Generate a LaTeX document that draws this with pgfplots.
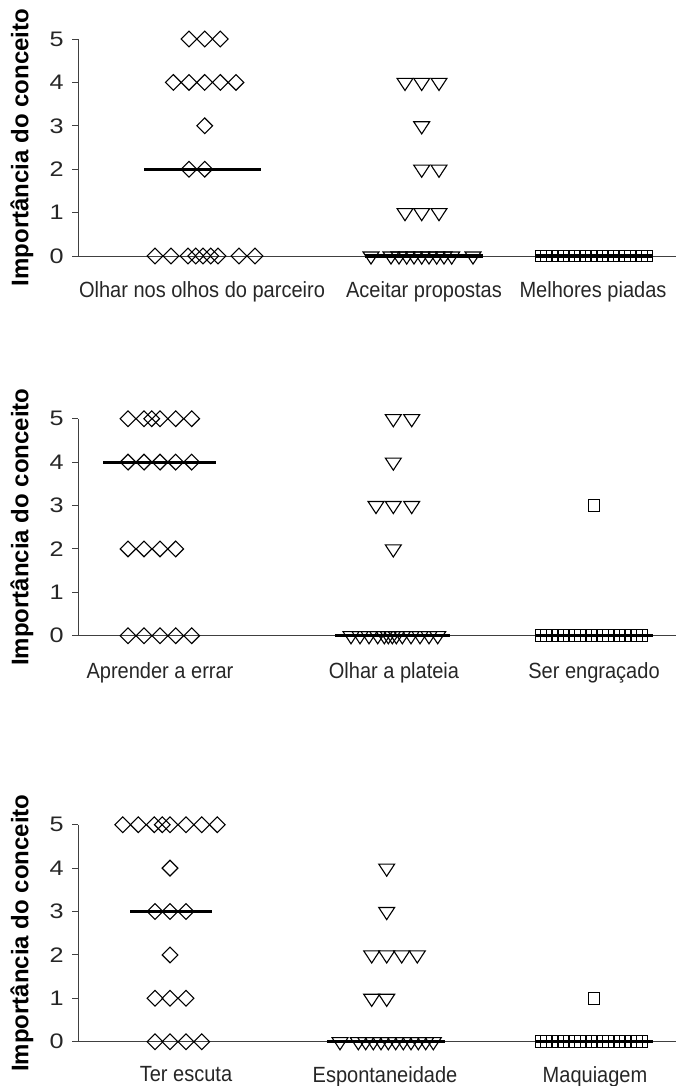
\documentclass[border=0pt]{standalone}
\usepackage{fontspec}
\setmainfont{Liberation Sans}
\usepackage{pgfplots}
\pgfplotsset{compat=1.18}
\pgfplotsset{
  panel/.style={
    scale only axis, width=299pt, height=108.5pt,
    xmin=78, xmax=676, ymin=0, ymax=5,
    axis x line=bottom, axis y line=left,
    axis line style={-, black!75, line width=0.5pt},
    ytick={0,...,5},
    tick align=outside, major tick length=3pt,
    ytick style={black!75, line width=0.5pt},
    xtick style={draw=none},
    yticklabel style={font=\fontsize{10.5}{12}\selectfont, text=black!85, xscale=1.2},
    /pgf/number format/assume math mode=true,
    xticklabel style={font=\fontsize{11}{13}\selectfont, text=black!85, xscale=0.91, yshift=-6pt},
    clip=false,
    ylabel={Importância do conceito},
    ylabel style={font=\bfseries\fontsize{12}{14}\selectfont, at={(axis description cs:-0.0936,0.5)}, anchor=center},
  },
  dia/.style={only marks, mark=square, mark size=2.78pt, mark options={rotate=45, line width=0.55pt, draw=black, fill=none}},
  tri/.style={only marks, mark=triangle, mark size=4.6pt, mark options={rotate=180, yscale=0.88, line width=0.55pt, draw=black, fill=none}},
  sq/.style={only marks, mark=square, mark size=2.9pt, mark options={line width=0.55pt, draw=black, fill=none}},
  med/.style={no marks, black, line width=1.6pt},
}
\begin{document}
\begin{tikzpicture}
\path[use as bounding box] (0pt,0pt) rectangle (338pt,-543pt);

% ---------- Top panel ----------
\begin{axis}[panel, at={(39pt,-128pt)}, anchor=south west,
  xtick={202,424,593},
  xticklabels={Olhar nos olhos do parceiro, Aceitar propostas, Melhores piadas}]
\addplot[med] coordinates {(144,2) (261,2)};
\addplot[dia] coordinates {
(189,5)(204.7,5)(220.3,5)
(173.3,4)(189,4)(204.7,4)(220.3,4)(236,4)
(204.7,3)
(189,2)(204.7,2)
(155,0)(171,0)(188,0)(195.7,0)(203,0)(210.7,0)(218,0)(239,0)(255,0)};
\addplot[med] coordinates {(365,0) (483,0)};
\addplot[tri] coordinates {
(405,4)(421.7,4)(439,4)
(421.7,3)
(421.7,2)(439,2)
(405,1)(421.7,1)(439,1)
(371,0)(391,0)(399,0)(406.7,0)(414,0)(421.7,0)(429,0)(436.7,0)(444,0)(451.7,0)(473,0)};
\addplot[med] coordinates {(535,0) (653,0)};
\addplot[sq] coordinates {
(541,0)(546.6,0)(552.2,0)(557.7,0)(563.3,0)(568.9,0)(574.5,0)(580.1,0)(585.6,0)(591.2,0)
(596.8,0)(602.4,0)(608,0)(613.5,0)(619.1,0)(624.7,0)(630.3,0)(635.9,0)(641.4,0)(647,0)};
\end{axis}

% ---------- Middle panel ----------
\begin{axis}[panel, at={(39pt,-317.85pt)}, anchor=south west,
  xtick={160,394,594},
  xticklabels={Aprender a errar, Olhar a plateia, Ser engraçado},
  xticklabel style={yshift=-1pt}]
\addplot[med] coordinates {(103,4) (216,4)};
\addplot[dia] coordinates {
(128,5)(144,5)(151.7,5)(160,5)(175.7,5)(191.7,5)
(128,4)(144,4)(160,4)(175.7,4)(191.7,4)
(128,2)(144,2)(160,2)(175.7,2)
(128,0)(144,0)(160,0)(175.7,0)(191.7,0)};
\addplot[med] coordinates {(335,0) (450,0)};
\addplot[tri] coordinates {
(393.3,5)(411.7,5)
(393.3,4)
(376,3)(393.3,3)(411.7,3)
(393.3,2)
(351,0)(360,0)(369,0)(377.7,0)(384.3,0)(388.3,0)(392.3,0)(396.3,0)(402.3,0)(411,0)(420,0)(429,0)(437.7,0)};
\addplot[med] coordinates {(535,0) (653,0)};
\addplot[sq] coordinates {
(594,3)
(541,0)(546.6,0)(552.2,0)(557.8,0)(563.4,0)(569.1,0)(574.7,0)(580.3,0)(585.9,0)(591.5,0)
(597.1,0)(602.7,0)(608.3,0)(613.9,0)(619.6,0)(625.2,0)(630.8,0)(636.4,0)(642,0)};
\end{axis}

% ---------- Bottom panel ----------
\begin{axis}[panel, at={(39pt,-520.85pt)}, anchor=south west,
  xtick={186,385,595},
  xticklabels={Ter escuta, Espontaneidade, Maquiagem}]
\addplot[med] coordinates {(130,3) (212,3)};
\addplot[dia] coordinates {
(122.7,5)(138.3,5)(154.3,5)(162.3,5)(170,5)(186,5)(201.7,5)(217.3,5)
(170,4)
(155,3)(170,3)(186,3)
(170,2)
(155,1)(170,1)(186,1)
(155,0)(170,0)(186,0)(201.7,0)};
\addplot[med] coordinates {(327,0) (445,0)};
\addplot[tri] coordinates {
(386.7,4)
(386.7,3)
(371.7,2)(386.7,2)(401.7,2)(417.3,2)
(371.7,1)(386.7,1)
(340,0)(358.3,0)(365.7,0)(373.3,0)(381,0)(388.3,0)(395.7,0)(403.3,0)(411,0)(418.3,0)(425.7,0)(433.3,0)};
\addplot[med] coordinates {(535,0) (653,0)};
\addplot[sq] coordinates {
(594,1)
(541,0)(546.6,0)(552.2,0)(557.8,0)(563.4,0)(569.1,0)(574.7,0)(580.3,0)(585.9,0)(591.5,0)
(597.1,0)(602.7,0)(608.3,0)(613.9,0)(619.6,0)(625.2,0)(630.8,0)(636.4,0)(642,0)};
\end{axis}
\end{tikzpicture}
\end{document}
